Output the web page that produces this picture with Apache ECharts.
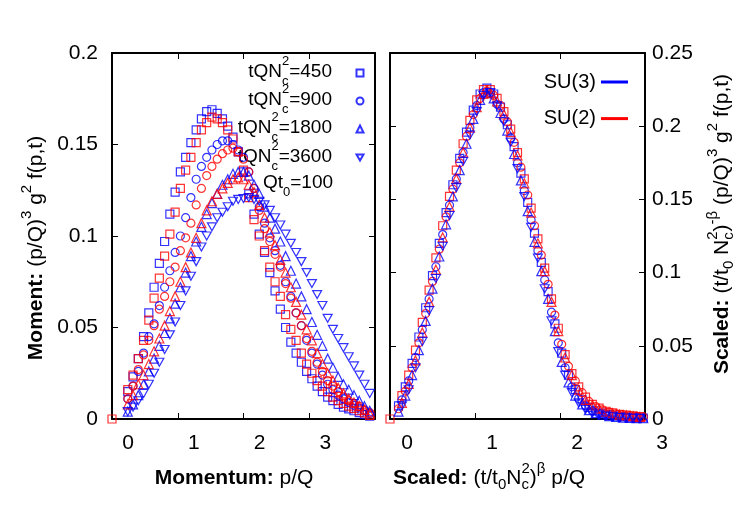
<!DOCTYPE html>
<html><head><meta charset="utf-8">
<script src="https://cdn.jsdelivr.net/npm/echarts@6/dist/echarts.min.js"></script>
<style>html,body{margin:0;padding:0;background:#fff}#c{width:750px;height:525px}</style>
</head><body><div id="c"></div>
<script>
const FONT = '"Liberation Sans", Arial, Helvetica, sans-serif';

// ---------- Left panel: momentum p/Q grid and moment values ----------
const pL = [0.24,0.32,0.40,0.48,0.56,0.64,0.72,0.80,0.88,0.96,1.04,1.12,1.20,1.28,1.36,1.44,1.52,1.60,1.68,1.76,1.84,1.92,2.00,2.08,2.16,2.24,2.32,2.40,2.48,2.56,2.64,2.72,2.80,2.88,2.96,3.04,3.12,3.20,3.28,3.36,3.44,3.52,3.60,3.68,3.76,3.84,3.92];
const su3_450L = [0.015,0.023,0.033,0.045,0.058,0.072,0.085,0.097,0.112,0.124,0.135,0.143,0.151,0.158,0.164,0.168,0.169,0.167,0.164,0.160,0.154,0.146,0.135,0.123,0.112,0.101,0.091,0.080,0.070,0.060,0.050,0.042,0.036,0.031,0.026,0.022,0.018,0.015,0.012,0.010,0.008,0.0065,0.0055,0.0045,0.0035,0.0025,0.0015];
const su2_450L = [0.016,0.024,0.033,0.043,0.054,0.066,0.077,0.089,0.101,0.113,0.126,0.136,0.143,0.151,0.158,0.162,0.165,0.164,0.162,0.158,0.153,0.146,0.136,0.121,0.109,0.100,0.092,0.083,0.075,0.067,0.057,0.049,0.043,0.036,0.030,0.025,0.021,0.018,0.015,0.012,0.010,0.0085,0.007,0.0058,0.0045,0.0033,0.002];
const su3_900L = [0.011,0.018,0.026,0.036,0.045,0.052,0.062,0.072,0.081,0.091,0.100,0.110,0.121,0.131,0.138,0.143,0.147,0.150,0.152,0.152,0.150,0.147,0.143,0.135,0.126,0.116,0.107,0.099,0.092,0.084,0.075,0.067,0.058,0.051,0.043,0.036,0.030,0.024,0.019,0.016,0.013,0.011,0.009,0.0075,0.006,0.0045,0.003];
const su2_900L = [0.011,0.018,0.027,0.035,0.043,0.051,0.060,0.067,0.075,0.083,0.092,0.099,0.107,0.117,0.126,0.133,0.138,0.142,0.145,0.147,0.148,0.146,0.142,0.135,0.126,0.114,0.104,0.097,0.090,0.083,0.074,0.066,0.058,0.051,0.044,0.037,0.031,0.026,0.021,0.018,0.015,0.012,0.010,0.0085,0.007,0.005,0.0035];
const su3_1800L = [0.004,0.008,0.013,0.019,0.026,0.033,0.040,0.047,0.055,0.063,0.072,0.080,0.089,0.097,0.105,0.112,0.118,0.123,0.128,0.131,0.134,0.135,0.135,0.133,0.128,0.123,0.116,0.110,0.104,0.097,0.089,0.081,0.074,0.067,0.060,0.053,0.046,0.040,0.033,0.028,0.023,0.019,0.016,0.013,0.010,0.007,0.0045];
const su2_1800L = [0.008,0.013,0.019,0.024,0.030,0.037,0.044,0.051,0.059,0.067,0.075,0.083,0.091,0.099,0.107,0.114,0.119,0.123,0.126,0.129,0.131,0.132,0.131,0.128,0.124,0.117,0.110,0.102,0.095,0.087,0.080,0.072,0.064,0.057,0.049,0.043,0.036,0.030,0.025,0.021,0.017,0.014,0.011,0.009,0.007,0.005,0.003];
const su3_3600L = [0.004,0.0065,0.010,0.014,0.019,0.025,0.031,0.038,0.046,0.053,0.062,0.070,0.078,0.086,0.094,0.100,0.105,0.110,0.113,0.116,0.119,0.120,0.1205,0.121,0.120,0.119,0.117,0.114,0.110,0.106,0.101,0.096,0.091,0.086,0.080,0.074,0.068,0.062,0.055,0.049,0.044,0.039,0.034,0.029,0.024,0.019,0.014];
const edgeL = [[0, 0]];

// ---------- Right panel: scaled momentum grids and scaled values ----------
const sA = [0.10,0.18,0.26,0.34,0.42,0.50,0.58,0.66,0.74,0.82,0.90,0.98,1.06,1.14,1.22,1.30,1.38,1.46,1.54,1.62,1.70,1.78,1.86,1.94,2.02,2.10,2.18,2.26,2.34,2.42,2.50,2.58,2.66,2.74,2.82,2.90,2.98];
const sB = [0.14,0.22,0.30,0.38,0.46,0.54,0.62,0.70,0.78,0.86,0.94,1.02,1.10,1.18,1.26,1.34,1.42,1.50,1.58,1.66,1.74,1.82,1.90,1.98,2.06,2.14,2.22,2.30,2.38,2.46,2.54,2.62,2.70,2.78,2.86,2.94];
const su3_450R = [0.009,0.022,0.038,0.056,0.076,0.098,0.120,0.141,0.160,0.178,0.196,0.211,0.222,0.226,0.222,0.213,0.201,0.186,0.168,0.148,0.127,0.107,0.087,0.065,0.045,0.030,0.020,0.013,0.008,0.0055,0.004,0.003,0.0022,0.0016,0.0012,0.0009,0.0007];
const su2_900R = [0.007,0.019,0.035,0.052,0.072,0.094,0.116,0.138,0.157,0.175,0.193,0.208,0.219,0.224,0.221,0.214,0.203,0.189,0.172,0.153,0.132,0.112,0.092,0.071,0.051,0.036,0.026,0.018,0.012,0.0085,0.0062,0.0047,0.0036,0.0029,0.0023,0.0018,0.0014];
const su3_1800R = [0.005,0.016,0.030,0.047,0.067,0.089,0.111,0.133,0.152,0.170,0.188,0.205,0.218,0.223,0.219,0.209,0.197,0.181,0.163,0.142,0.121,0.101,0.082,0.060,0.039,0.025,0.016,0.010,0.006,0.004,0.003,0.002,0.0015,0.001,0.0008,0.0006,0.0005];
const su2_450R = [0.016,0.030,0.047,0.066,0.088,0.110,0.132,0.152,0.170,0.188,0.204,0.218,0.225,0.225,0.219,0.210,0.198,0.182,0.164,0.144,0.123,0.103,0.082,0.062,0.044,0.031,0.022,0.015,0.010,0.0074,0.0053,0.0042,0.0032,0.0026,0.0021,0.0016];
const su3_900R = [0.013,0.026,0.042,0.061,0.082,0.104,0.126,0.146,0.164,0.182,0.199,0.214,0.223,0.223,0.215,0.205,0.192,0.175,0.156,0.136,0.115,0.095,0.073,0.052,0.035,0.022,0.014,0.009,0.0055,0.0038,0.0027,0.002,0.0014,0.001,0.0008,0.0006];
const su2_1800R = [0.011,0.024,0.040,0.059,0.080,0.102,0.124,0.145,0.164,0.182,0.199,0.213,0.222,0.223,0.217,0.208,0.196,0.180,0.161,0.141,0.120,0.101,0.080,0.060,0.042,0.030,0.020,0.013,0.0095,0.007,0.005,0.004,0.003,0.0025,0.002,0.0015];
const su3_3600R = [0.009,0.020,0.035,0.053,0.074,0.096,0.118,0.139,0.158,0.176,0.194,0.210,0.221,0.223,0.214,0.203,0.189,0.171,0.152,0.131,0.110,0.089,0.067,0.046,0.030,0.018,0.011,0.0065,0.004,0.0028,0.002,0.0015,0.001,0.0007,0.0005,0.0004];
const edgeR = [[0, 0]];

// ---------- tick labels / legend entries ----------
const xTicksL = [0, 1, 2, 3];
const xTicksR = [0, 1, 2, 3];
const legendL = ['450', '900', '1800', '3600'];
const legendR = ['SU(3)', 'SU(2)'];

const BLUE = '#0000ff', RED = '#ff0000';
const INV = 'path://M0,0L10,0L5,8.66Z';
const zip = (xs, ys) => xs.map((x, i) => [x, ys[i]]);
const nm = k => 'tQNc2=' + k;

function sc(name, data, color, symbol, size, xi, yi) {
  return {type: 'scatter', name, data, xAxisIndex: xi, yAxisIndex: yi, symbol, symbolSize: size,
    itemStyle: {color: 'rgba(0,0,0,0)', borderColor: color, borderWidth: 1.2},
    emphasis: {disabled: true}, silent: true, animation: false};
}

const series = [
  sc(nm('450'), zip(pL, su3_450L), BLUE, 'rect', 8, 0, 0),
  sc('SU2 450', edgeL.concat(zip(pL, su2_450L)), RED, 'rect', 8, 0, 0),
  sc(nm('900'), zip(pL, su3_900L), BLUE, 'circle', 8, 0, 0),
  sc('SU2 900', zip(pL, su2_900L), RED, 'circle', 8, 0, 0),
  sc(nm('1800'), zip(pL, su3_1800L), BLUE, 'triangle', 9, 0, 0),
  sc('SU2 1800', zip(pL, su2_1800L), RED, 'triangle', 9, 0, 0),
  sc(nm('3600'), zip(pL, su3_3600L), BLUE, INV, [9, 8], 0, 0),

  sc('R SU3 450', zip(sA, su3_450R), BLUE, 'rect', 8, 2, 2),
  sc('R SU2 450', edgeR.concat(zip(sB, su2_450R)), RED, 'rect', 8, 2, 2),
  sc('R SU3 900', zip(sB, su3_900R), BLUE, 'circle', 8, 2, 2),
  sc('R SU2 900', zip(sA, su2_900R), RED, 'circle', 8, 2, 2),
  sc('R SU3 1800', zip(sA, su3_1800R), BLUE, 'triangle', 9, 2, 2),
  sc('R SU2 1800', zip(sB, su2_1800R), RED, 'triangle', 9, 2, 2),
  sc('R SU3 3600', zip(sB, su3_3600R), BLUE, INV, [9, 8], 2, 2),
  {type: 'line', name: legendR[0], data: [], xAxisIndex: 2, yAxisIndex: 2, symbol: 'none',
    itemStyle: {color: BLUE}, lineStyle: {color: BLUE, width: 3}},
  {type: 'line', name: legendR[1], data: [], xAxisIndex: 2, yAxisIndex: 2, symbol: 'none',
    itemStyle: {color: RED}, lineStyle: {color: RED, width: 3}}
];

const axLine = {show: true, onZero: false, lineStyle: {color: '#000', width: 2}};
const axTick = {show: true, inside: true, length: 6, lineStyle: {color: '#000', width: 1}};
const lblStyle = {color: '#000', fontSize: 21, fontFamily: FONT};

function xAx(grid, pos, max, labels, pad) {
  return {type: 'value', gridIndex: grid, position: pos, min: 0, max, interval: 1,
    axisLine: axLine, axisTick: axTick, splitLine: {show: false},
    axisLabel: labels ? Object.assign({show: true, margin: 14, padding: [0, 0, 0, pad],
      formatter: v => (labels.indexOf(v) >= 0 ? String(v) : '')}, lblStyle) : {show: false}};
}
function yAx(grid, pos, max, showLabel, margin) {
  return {type: 'value', gridIndex: grid, position: pos, min: 0, max, interval: 0.05,
    axisLine: axLine, axisTick: axTick, splitLine: {show: false},
    axisLabel: showLabel ? Object.assign({show: true, margin}, lblStyle) : {show: false}};
}

// ---------- rich text helpers for sub/superscripts ----------
const mctx = document.createElement('canvas').getContext('2d');
function tw(t, size, bold) { mctx.font = (bold ? 'bold ' : '') + size + 'px ' + FONT; return mctx.measureText(t).width; }
function richLabel(parts, cx, cy, o) {
  let x = 0; const kids = [];
  const add = (t, dx, dy, size, bold) => kids.push({type: 'text', x: dx, y: dy, silent: true,
    style: {text: t, fontSize: size, fontFamily: FONT, fontWeight: bold ? 'bold' : 'normal', fill: '#000', align: 'left', verticalAlign: 'middle'}});
  for (const p of parts) {
    if (p.stack) { add(p.stack[0], x, o.sup, o.small); add(p.stack[1], x, o.sub, o.small); x += Math.max(tw(p.stack[0], o.small), tw(p.stack[1], o.small)); }
    else if (p.sup) { add(p.sup, x, o.sup, o.small); x += tw(p.sup, o.small); }
    else if (p.sub) { add(p.sub, x, o.sub, o.small); x += tw(p.sub, o.small); }
    else { add(p.t, x, 0, o.base, p.b); x += tw(p.t, o.base, p.b); }
  }
  const off = o.anchor === 'right' ? -x : -x / 2;
  kids.forEach(k => { k.x += off; });
  return {type: 'group', x: cx, y: cy, rotation: o.rot || 0, children: kids};
}
const TT = {base: 21, small: 15, sup: -9, sub: 7};
const LG = {base: 19, small: 13, sup: -11, sub: 9, anchor: 'right'};
const legY = [72, 100, 128, 157];

const graphics = [
  richLabel([{t: 'Momentum:', b: true}, {t: ' p/Q'}], 234, 478, TT),
  richLabel([{t: 'Scaled:', b: true}, {t: ' (t/t'}, {sub: '0'}, {t: 'N'}, {stack: ['2', 'c']}, {t: ')'}, {sup: 'β'}, {t: ' p/Q'}], 489, 478, TT),
  richLabel([{t: 'Moment:', b: true}, {t: ' (p/Q)'}, {sup: '3'}, {t: ' g'}, {sup: '2'}, {t: ' f(p,t)'}], 36, 248, Object.assign({rot: Math.PI / 2}, TT)),
  richLabel([{t: 'Scaled:', b: true}, {t: ' (t/t'}, {sub: '0'}, {t: ' N'}, {stack: ['2', 'c']}, {t: ')'}, {sup: '-β'}, {t: ' (p/Q)'}, {sup: '3'}, {t: ' g'}, {sup: '2'}, {t: ' f(p,t)'}], 722, 224, Object.assign({rot: Math.PI / 2}, TT)),
  richLabel([{t: 'Qt'}, {sub: '0'}, {t: '=100'}], 298, 183, Object.assign({}, LG, {anchor: 'center'}))
];
legendL.forEach((k, i) => graphics.push(richLabel([{t: 'tQN'}, {stack: ['2', 'c']}, {t: '=' + k}], 332, legY[i], LG)));

// one icon-only legend per left-panel entry, placed at its row
const legends = legendL.map((k, i) => ({
  data: [nm(k)], orient: 'vertical', left: 355.5, top: legY[i] - 3.5, padding: 0,
  itemWidth: 7, itemHeight: 7, formatter: () => '', textStyle: {fontSize: 7, lineHeight: 7}, selectedMode: false
}));
legends.push({data: legendR, orient: 'vertical', right: 122, top: 72, padding: 0, align: 'right', icon: 'rect',
  itemWidth: 27, itemHeight: 3, itemGap: 16.6,
  textStyle: {fontSize: 20, lineHeight: 20, fontFamily: FONT, color: '#000'}, selectedMode: false});

const chart = echarts.init(document.getElementById('c'), null, {renderer: 'canvas'});
chart.setOption({
  animation: false,
  backgroundColor: '#fff',
  grid: [
    {left: 112, top: 53, width: 263, height: 366, outerBoundsMode: 'none', containLabel: false},
    {left: 390, top: 53, width: 255, height: 366, outerBoundsMode: 'none', containLabel: false}
  ],
  xAxis: [
    xAx(0, 'bottom', 4, xTicksL, 32),
    xAx(0, 'top', 4, null),
    xAx(1, 'bottom', 3, xTicksR, 34),
    xAx(1, 'top', 3, null)
  ],
  yAxis: [
    yAx(0, 'left', 0.2, true, 14),
    yAx(0, 'right', 0.2, false),
    yAx(1, 'left', 0.25, false),
    yAx(1, 'right', 0.25, true, 7)
  ],
  legend: legends,
  graphic: graphics,
  series
});
</script>
</body></html>
